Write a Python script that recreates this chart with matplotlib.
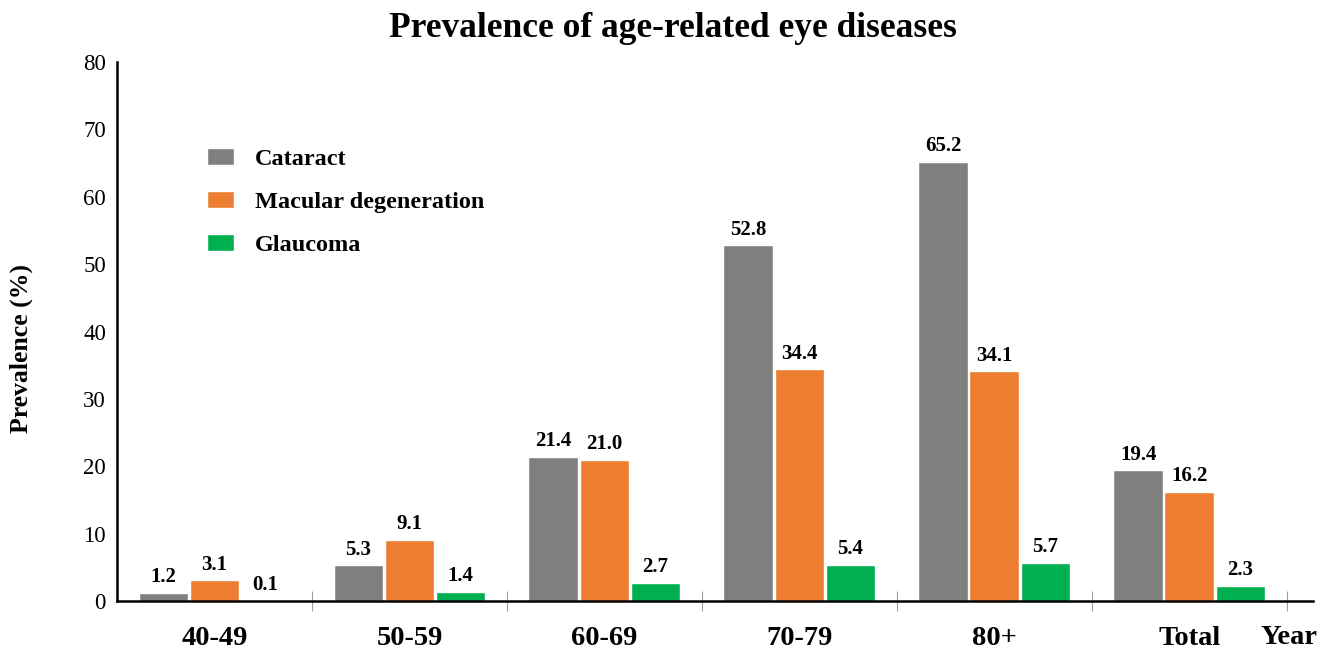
import numpy as np
import matplotlib.pyplot as plt

# age groups and prevalence (%) of each disease
groups = ['40-49', '50-59', '60-69', '70-79', '80+', 'Total']
cataract = [1.2, 5.3, 21.4, 52.8, 65.2, 19.4]
macular = [3.1, 9.1, 21.0, 34.4, 34.1, 16.2]
glaucoma = [0.1, 1.4, 2.7, 5.4, 5.7, 2.3]

series = [('Cataract', cataract, '#7f7f7f'),
          ('Macular degeneration', macular, '#ed7d31'),
          ('Glaucoma', glaucoma, '#00b050')]

plt.rcParams['font.family'] = ['Liberation Serif', 'DejaVu Serif']

fig = plt.figure(figsize=(13.3, 6.53), dpi=100)
ax = fig.add_axes([0.088, 0.0796, 0.899, 0.8254])

x = np.arange(len(groups))
w = 0.255
for i, (name, vals, col) in enumerate(series):
    pos = x + (i - 1) * 0.262
    ax.bar(pos, vals, w, color=col, edgecolor='white', linewidth=1, label=name)
    for p, v in zip(pos, vals):
        ax.annotate(f'{v:.1f}', (p, v), xytext=(0, 4), textcoords='offset points',
                    ha='center', va='bottom', fontsize=15, fontweight='bold')

ax.set_xlim(-0.5, 5.633)
ax.set_ylim(0, 80)
ax.set_yticks(range(0, 81, 10))
ax.tick_params(axis='y', length=0, labelsize=16.5, pad=8)

# group labels centred, grey separators between groups
ax.set_xticks(x)
ax.set_xticklabels(groups, fontsize=20.5, fontweight='bold')
ax.tick_params(axis='x', length=0, pad=18)
ax.set_xticks(np.arange(0.5, 6, 1), minor=True)
ax.tick_params(axis='x', which='minor', direction='inout', length=14,
               width=0.8, color='#a0a0a0')

ax.annotate('Year', (5.51, 0), xycoords='data', xytext=(0, -26),
            textcoords='offset points', ha='center', va='center',
            fontsize=20.5, fontweight='bold', annotation_clip=False)

for s in ['top', 'right']:
    ax.spines[s].set_visible(False)
ax.spines['left'].set_linewidth(1.8)
ax.spines['bottom'].set_linewidth(1.8)

ax.set_ylabel('Prevalence (%)', fontsize=18.5, fontweight='bold')
ax.yaxis.set_label_coords(-0.070, 0.469)
fig.suptitle('Prevalence of age-related eye diseases', x=0.506, y=0.982,
             fontsize=25.5, fontweight='bold')

ax.legend(loc='upper left', bbox_to_anchor=(0.0753, 0.84), frameon=False,
          prop={'size': 17.5, 'weight': 'bold'}, handlelength=1.12,
          handleheight=0.7, handletextpad=0.85, labelspacing=0.86,
          borderpad=0, borderaxespad=0)

fig.savefig('out.png', dpi=100)
